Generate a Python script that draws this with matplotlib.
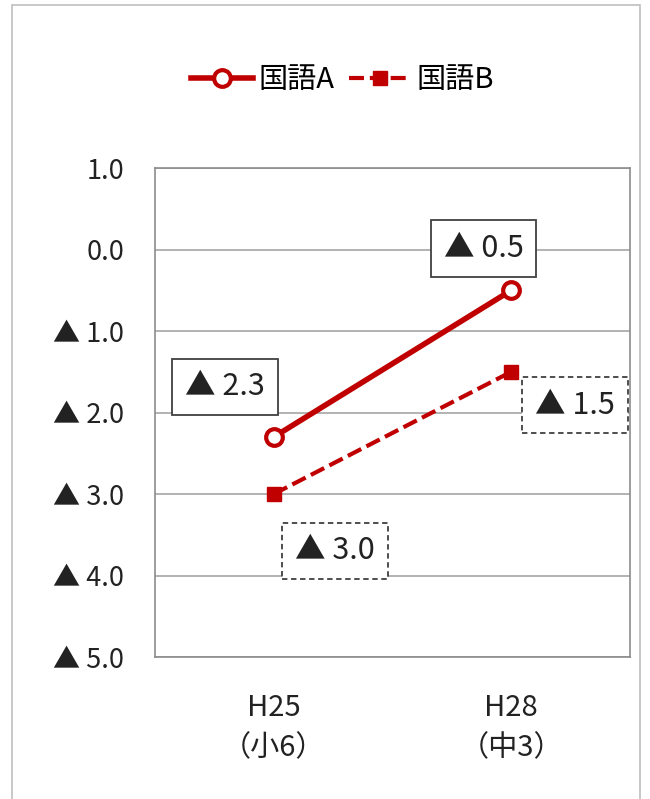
import matplotlib.pyplot as plt
from matplotlib.patches import Rectangle
from matplotlib.ticker import FuncFormatter

plt.rcParams['font.family'] = ['Noto Sans CJK JP', 'DejaVu Sans']

# data
categories = ['H25\n（小6）', 'H28\n（中3）']
kokugo_a = [-2.3, -0.5]
kokugo_b = [-3.0, -1.5]
series_names = ['国語A', '国語B']
y_ticks = [1.0, 0.0, -1.0, -2.0, -3.0, -4.0, -5.0]

RED = '#C00000'
TXT = '#222222'


def tri_fmt(v, pos=None):
    # negative values are shown with a black triangle instead of a minus sign
    if v < -1e-9:
        return '▲ {:.1f}'.format(-v)
    return '{:.1f}'.format(abs(v))


fig = plt.figure(figsize=(6.5, 7.99), dpi=100)
ax = fig.add_axes([0.2385, 0.1777, 0.7308, 0.612])

# outer chart frame
fig.patches.append(Rectangle((0.018, -0.05), 0.967, 1.044, transform=fig.transFigure,
                             fill=False, edgecolor='#BFBFBF', lw=1.2))

x = list(range(len(categories)))
ax.plot(x, kokugo_a, color=RED, lw=4, marker='o', ms=12, mfc='white',
        mec=RED, mew=3, label=series_names[0], zorder=3)
ax.plot(x, kokugo_b, color=RED, lw=3, ls=(0, (3.6, 1.4)), marker='s', ms=10,
        mfc=RED, mec=RED, label=series_names[1], zorder=3)

ax.set_xlim(-0.5, 1.5)
ax.set_ylim(-5, 1)
ax.set_yticks(y_ticks)
ax.yaxis.set_major_formatter(FuncFormatter(tri_fmt))
ax.set_xticks(x)
ax.set_xticklabels(categories, linespacing=1.45)
ax.tick_params(axis='y', length=0, pad=22, labelsize=19.5, colors=TXT)
ax.tick_params(axis='x', length=0, pad=26, labelsize=21, colors=TXT)
ax.grid(axis='y', color='#A6A6A6', lw=1.2)
ax.set_axisbelow(True)
for s in ax.spines.values():
    s.set_color('#8C8C8C')
    s.set_linewidth(1.2)

# value labels in boxes (solid for A, dashed for B)
offsets_a = [(-35, 36), (-20, 30)]
offsets_b = [(44, -41), (46, -24)]
for i, v in enumerate(kokugo_a):
    ax.annotate(tri_fmt(v), (x[i], v), xytext=offsets_a[i], textcoords='offset points',
                ha='center', va='center', fontsize=22, color=TXT,
                bbox=dict(boxstyle='square,pad=0.42', fc='white', ec='#404040', lw=1.3))
for i, v in enumerate(kokugo_b):
    ax.annotate(tri_fmt(v), (x[i], v), xytext=offsets_b[i], textcoords='offset points',
                ha='center', va='center', fontsize=22, color=TXT,
                bbox=dict(boxstyle='square,pad=0.42', fc='white', ec='#404040', lw=1.3,
                          ls=(0, (3, 2))))

fig.legend(loc='center', bbox_to_anchor=(0.527, 0.9), ncol=2, frameon=False,
           fontsize=21, handlelength=2.1, columnspacing=0.5, handletextpad=0.2)

fig.savefig('out.png', dpi=100)
